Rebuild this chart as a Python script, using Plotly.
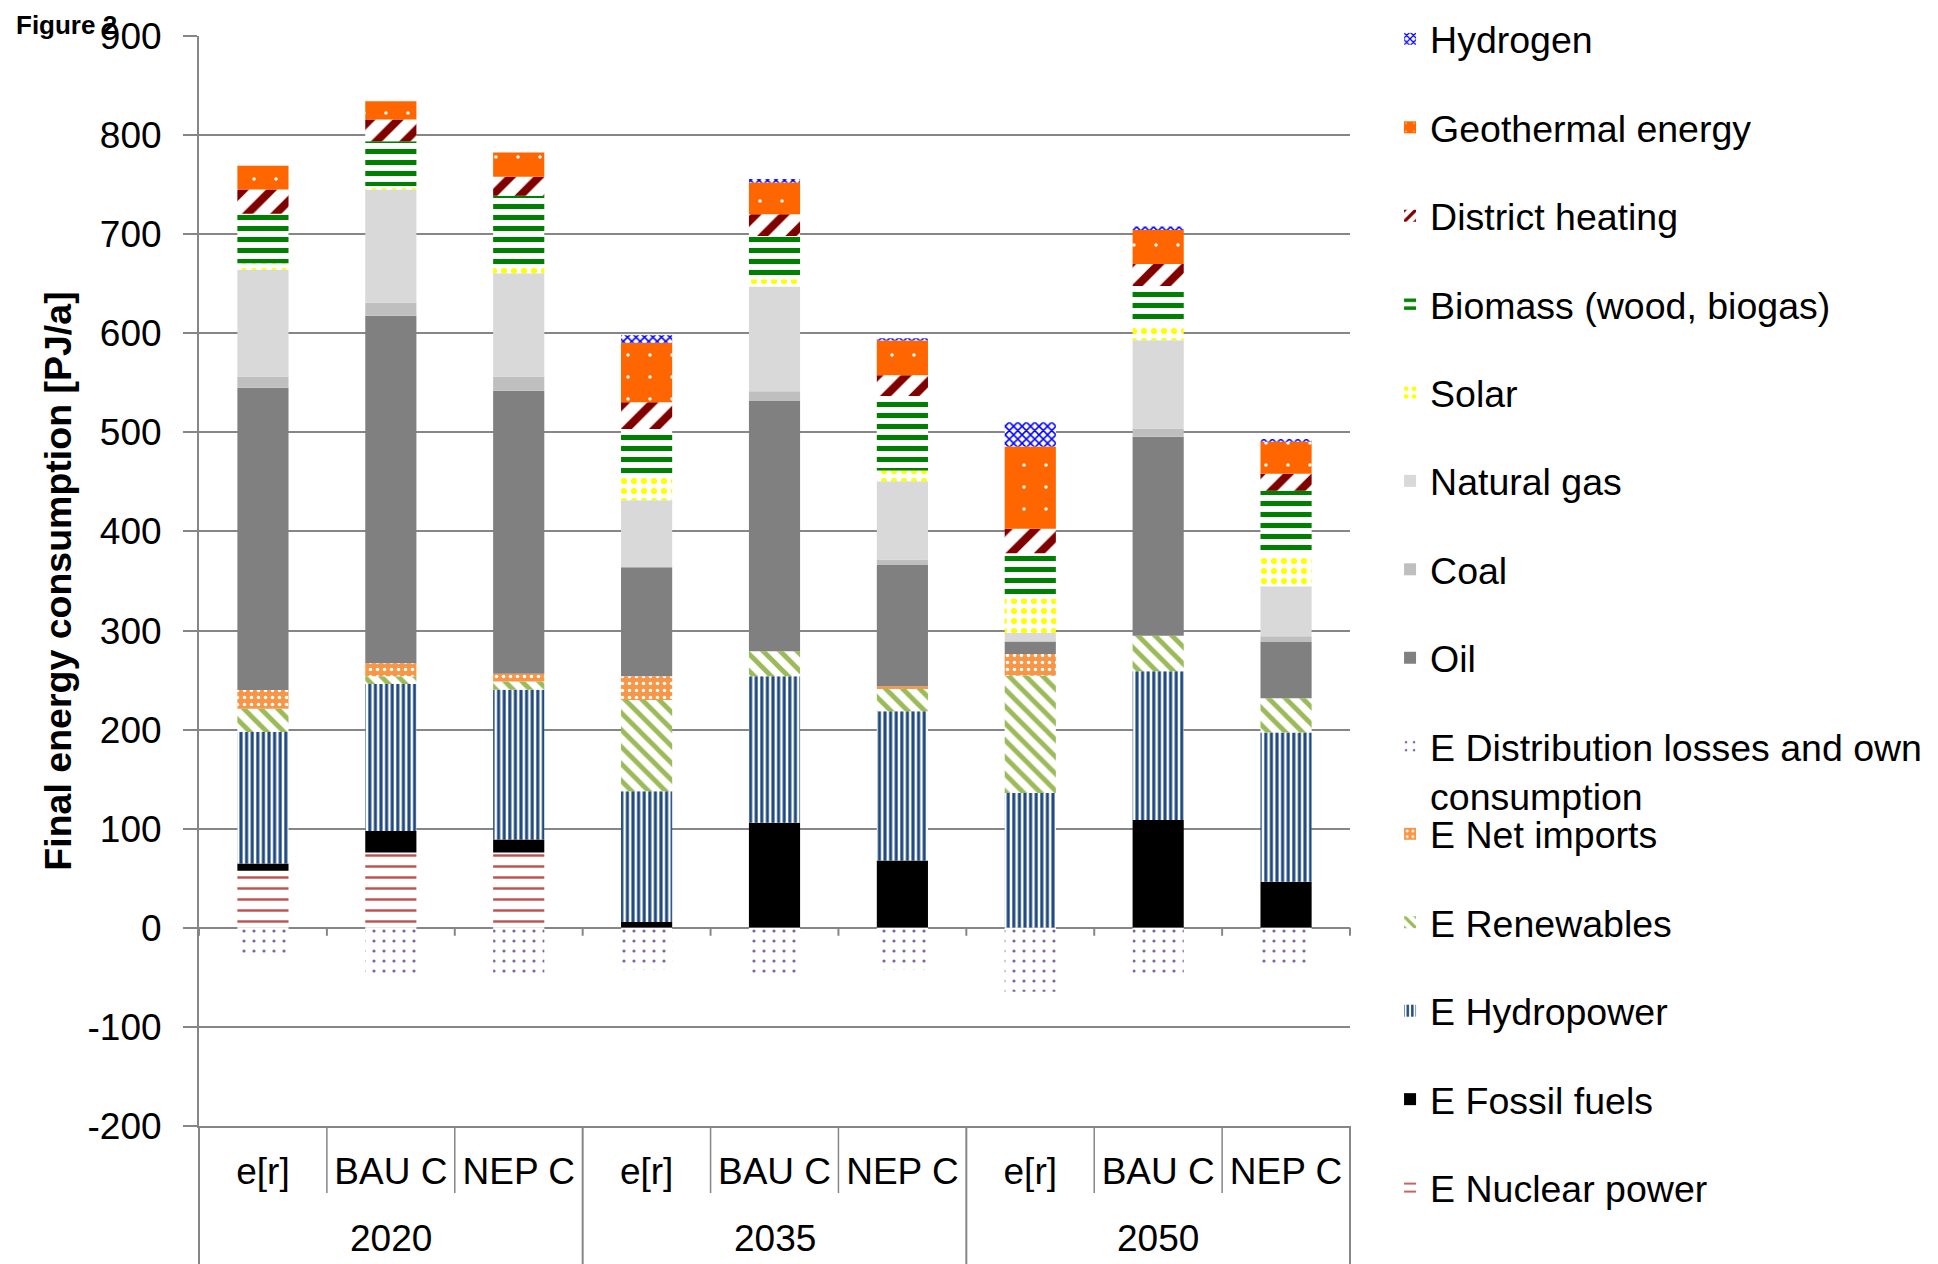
import plotly.graph_objects as go

# Column layout: three scenarios for each of three years
years = ["2020", "2035", "2050"]
scenarios = ["e[r]", "BAU C", "NEP C"]

# Value axis ticks (hyphen-minus labels)
y_ticks = [-200, -100, 0, 100, 200, 300, 400, 500, 600, 700, 800, 900]
y_tick_labels = ["-200", "-100", "0", "100", "200", "300", "400", "500", "600", "700", "800", "900"]

# Final energy consumption by source, PJ/a (one value per year/scenario column)
e_nuclear = [57.6, 76.1, 76.1, 0, 0, 0, 0, 0, 0]
e_fossil = [7.4, 21.6, 13.1, 5.9, 106.0, 68.0, 0, 108.8, 46.6]
e_hydro = [132.5, 148.3, 151.1, 132.0, 148.0, 150.5, 136.0, 150.0, 150.4]
e_renewables = [23.5, 7.8, 8.4, 92.0, 25.0, 22.5, 118.3, 36.0, 34.7]
e_imports = [19.0, 13.2, 7.8, 24.0, 0, 2.7, 22.0, 0, 0]
e_losses = [-27.0, -47.0, -47.0, -42.0, -46.0, -42.0, -64.5, -48.0, -41.0]
oil = [305.0, 350.7, 285.5, 110.0, 252.6, 122.5, 12.7, 200.8, 56.7]
coal = [11.0, 13.3, 14.0, 0, 10.0, 5.4, 0, 8.4, 5.8]
natural_gas = [108.0, 114.0, 104.5, 67.5, 105.5, 79.0, 8.4, 89.0, 50.5]
solar = [6.6, 3.7, 6.0, 25.0, 7.4, 11.0, 34.7, 16.0, 31.0]
biomass = [50.0, 45.0, 72.4, 47.0, 43.7, 75.0, 46.0, 38.8, 65.5]
district_heating = [24.5, 22.0, 19.0, 27.0, 22.0, 21.0, 24.7, 22.0, 17.0]
geothermal = [24.0, 18.4, 24.6, 60.0, 32.0, 35.0, 83.0, 34.5, 32.4]
hydrogen = [0, 0, 0, 7.7, 3.4, 2.5, 24.3, 3.4, 2.7]

FONT = "Liberation Sans, Arial, sans-serif"
GRID = "#868686"
WHITE = "#FFFFFF"
TICK_SIZE = 37
LEGEND_SIZE = 37.5

keys = [f"{y} {s}" for y in years for s in scenarios]
labels = [s for _ in years for s in scenarios]


def solid(color):
    return dict(color=color, line=dict(width=0))


def hatch(shape, fg, bg, size, solidity):
    return dict(color=bg, line=dict(width=0),
                pattern=dict(shape=shape, fgcolor=fg, bgcolor=bg,
                             size=size, solidity=solidity, fillmode="replace"))


# Stacking order, bottom to top, with the legend block each entry sits in
series = [
    ("E Nuclear power", e_nuclear, hatch("-", "#C0504D", WHITE, 11, 0.22), "legend3"),
    ("E Fossil fuels", e_fossil, solid("#000000"), "legend3"),
    ("E Hydropower", e_hydro, hatch("|", "#1F497D", WHITE, 5.6, 0.55), "legend3"),
    ("E Renewables", e_renewables, hatch("\\", "#9BBB59", WHITE, 12, 0.4), "legend3"),
    ("E Net imports", e_imports, hatch(".", WHITE, "#F79646", 7, 0.2), "legend3"),
    ("E Distribution losses and own<br>consumption", e_losses,
     hatch(".", "#8064A2", WHITE, 10, 0.08), "legend2"),
    ("Oil", oil, solid("#808080"), "legend2"),
    ("Coal", coal, solid("#BFBFBF"), "legend2"),
    ("Natural gas", natural_gas, solid("#D9D9D9"), "legend2"),
    ("Solar", solar, hatch(".", "#FFFF00", WHITE, 10, 0.3), "legend"),
    ("Biomass (wood, biogas)", biomass, hatch("-", "#008000", WHITE, 11, 0.45), "legend"),
    ("District heating", district_heating, hatch("/", "#800000", WHITE, 20, 0.4), "legend"),
    ("Geothermal energy", geothermal, hatch(".", WHITE, "#FF6600", 22, 0.02), "legend"),
    ("Hydrogen", hydrogen, hatch("x", "#0000FF", WHITE, 6, 0.45), "legend"),
]

fig = go.Figure()
n_series = len(series)
for i, (name, values, marker, legend_id) in enumerate(series):
    fig.add_trace(go.Bar(
        x=keys, y=values, name=name, marker=marker, width=0.4,
        legend=legend_id, legendgroup=name, legendrank=n_series - i,
    ))

# Category table below the plot: short separators between scenarios,
# full-height separators between years, small ticks on the zero line
n = len(keys)
shapes = []
for k in range(n + 1):
    outer = k % len(scenarios) == 0
    shapes.append(dict(type="line", xref="paper", yref="paper",
                       x0=k / n, x1=k / n, y0=0, y1=-0.1266 if outer else -0.0615,
                       line=dict(color=GRID, width=2 if outer else 1.5)))
    shapes.append(dict(type="line", xref="paper", yref="y",
                       x0=k / n, x1=k / n, y0=0, y1=-8,
                       line=dict(color=GRID, width=2)))

annotations = [
    dict(text=yr, x=i * len(scenarios) + 1, xref="x", y=-0.1036, yref="paper",
         showarrow=False, yanchor="middle",
         font=dict(size=TICK_SIZE, color="black", family=FONT))
    for i, yr in enumerate(years)
]
annotations.append(dict(text="<b>Figure 2</b>", x=-0.1607, xref="paper", xanchor="left",
                        y=1.026, yref="paper", yanchor="top", showarrow=False,
                        font=dict(size=26, color="black", family=FONT)))

legend_common = dict(
    xanchor="left", yanchor="top", x=1.0348, maxheight=1200,
    traceorder="grouped", tracegroupgap=36.7, valign="top",
    font=dict(size=LEGEND_SIZE, color="black", family=FONT), bgcolor="rgba(0,0,0,0)",
)

fig.update_layout(
    width=1938, height=1264,
    margin=dict(l=199, r=588, t=36, b=138, autoexpand=False),
    paper_bgcolor="white", plot_bgcolor="white",
    barmode="relative",
    font=dict(family=FONT, color="black"),
    shapes=shapes, annotations=annotations,
    legend=dict(y=1.0257, **legend_common),
    legend2=dict(y=0.6202, **legend_common),
    legend3=dict(y=0.2964, **legend_common),
    xaxis=dict(
        type="category", tickvals=keys, ticktext=labels, range=[-0.5, n - 0.5],
        showgrid=False, zeroline=False, showline=True, linecolor=GRID, linewidth=2,
        ticks="", ticklabelstandoff=12,
        tickfont=dict(size=TICK_SIZE, color="black", family=FONT),
    ),
    yaxis=dict(
        range=[-200, 900], tickvals=y_ticks, ticktext=y_tick_labels,
        showgrid=True, gridcolor=GRID, gridwidth=2,
        zeroline=False, showline=True, linecolor=GRID, linewidth=2,
        ticks="outside", ticklen=14, tickwidth=2, tickcolor=GRID, ticklabelstandoff=14,
        tickfont=dict(size=TICK_SIZE, color="black", family=FONT),
        title=dict(text="Final energy consumption [PJ/a]", standoff=4,
                   font=dict(size=37.5, color="black", family=FONT, weight="bold")),
    ),
)

fig.write_html("out.html")
